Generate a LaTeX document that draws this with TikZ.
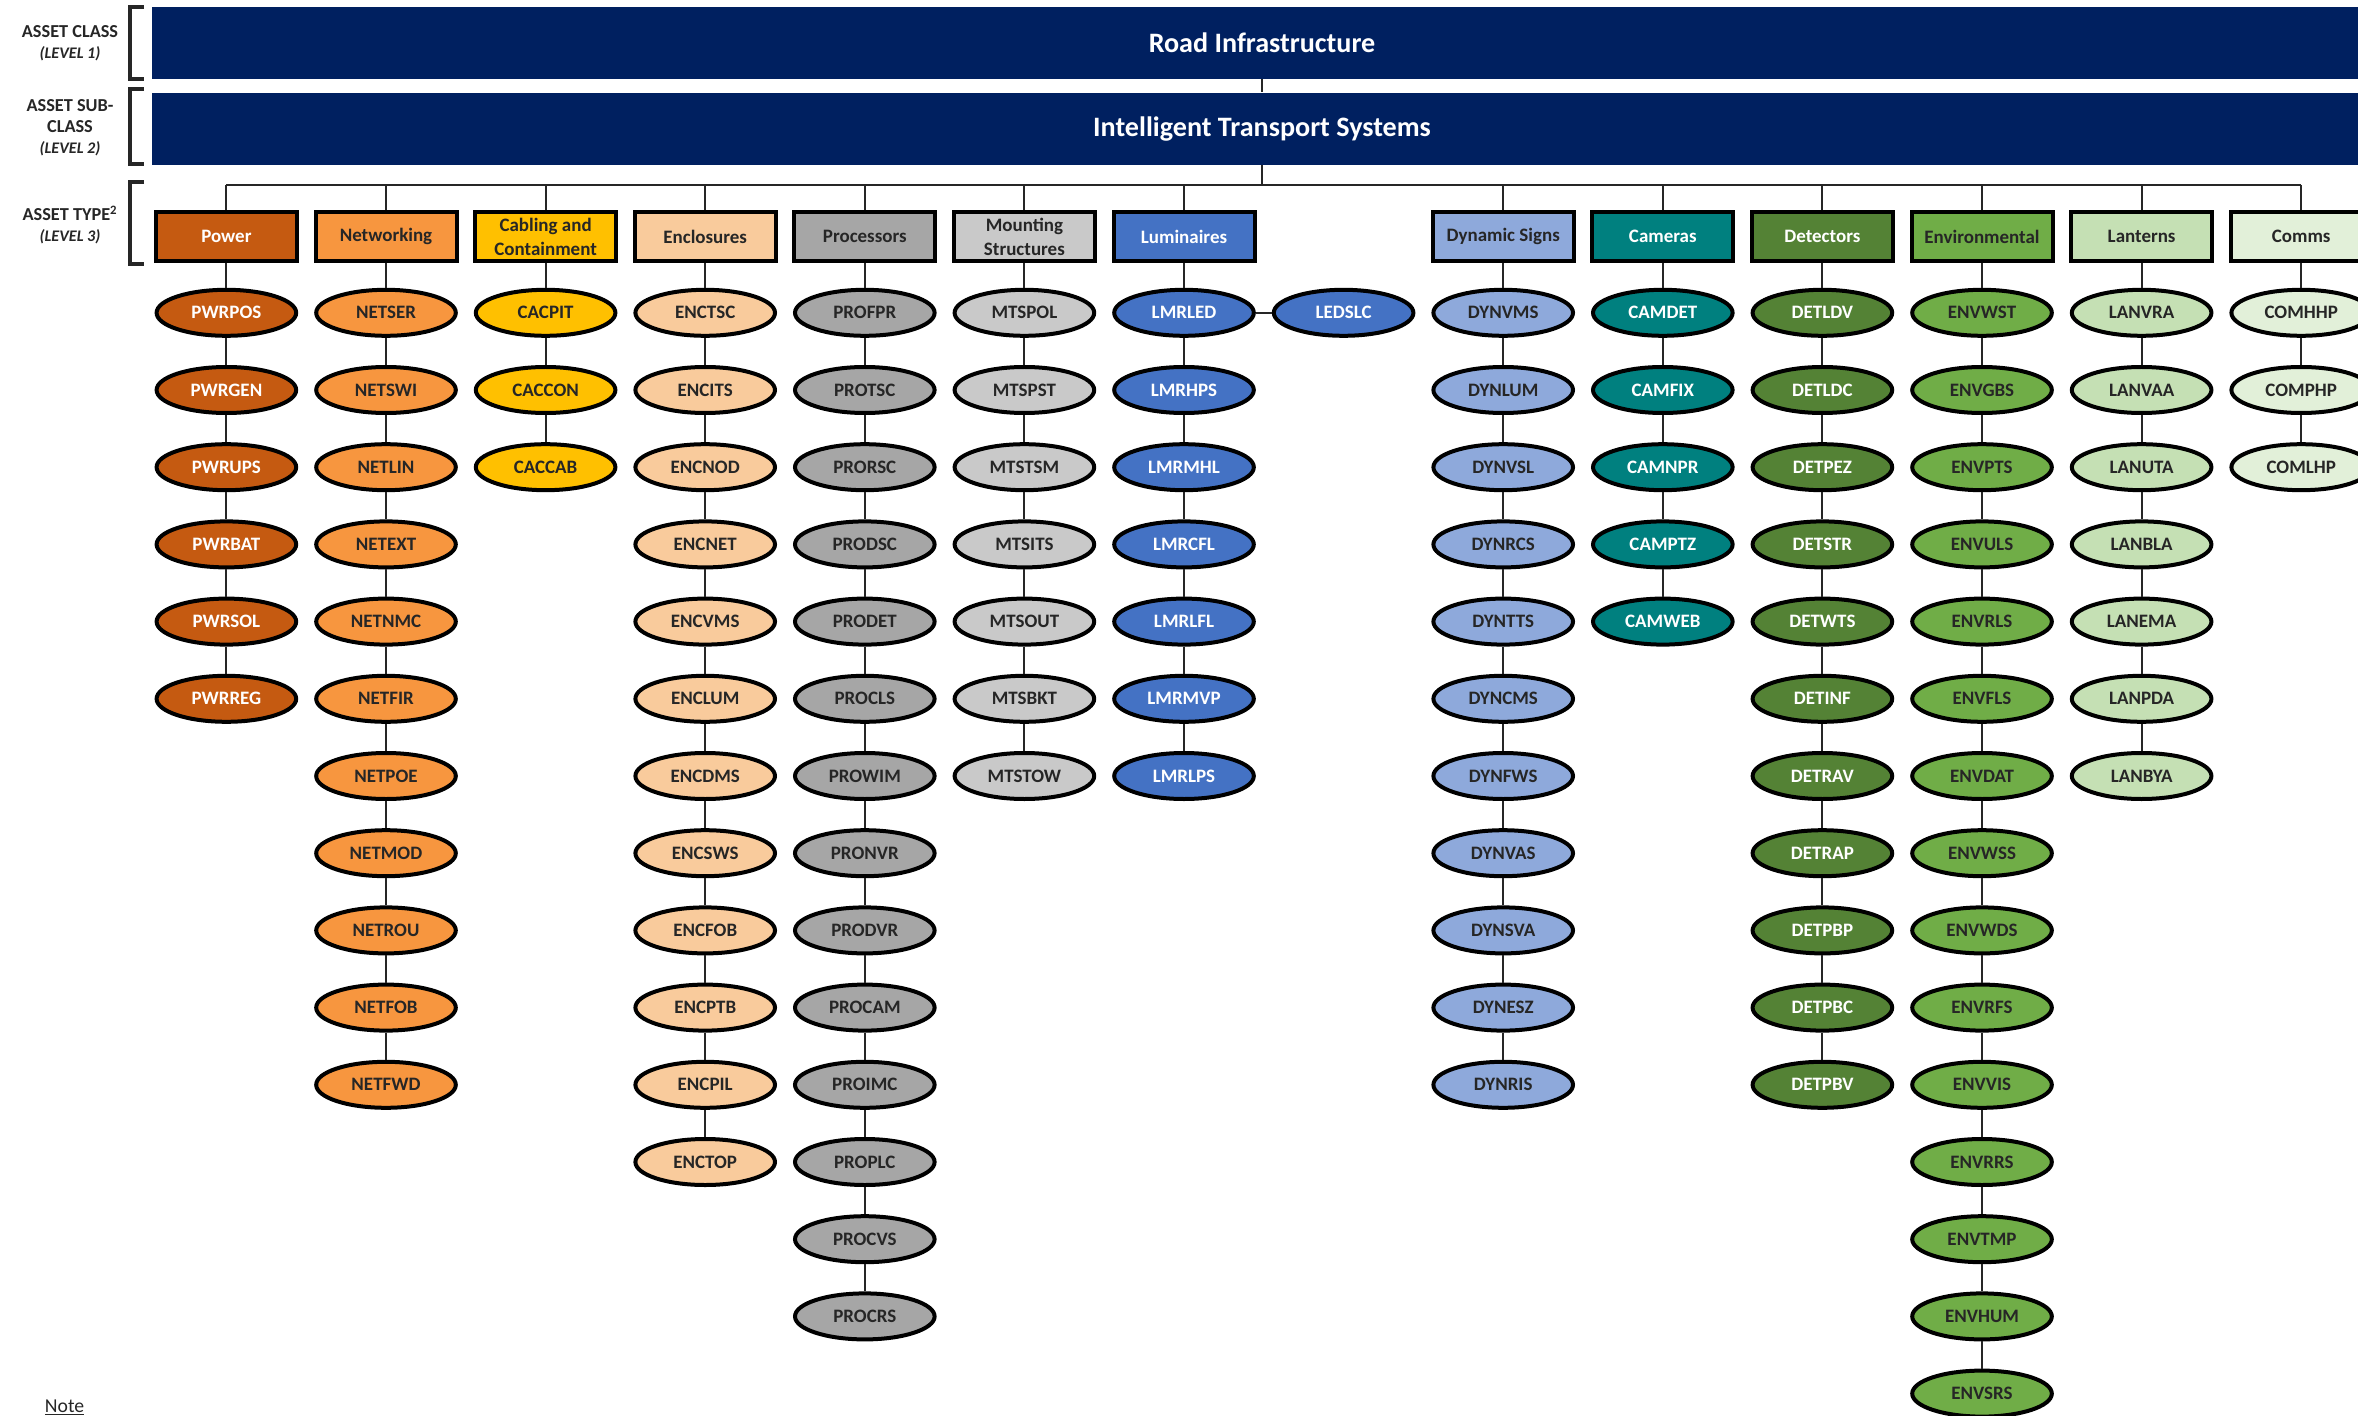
\documentclass[tikz,border=0pt]{standalone}
\usepackage{fontspec}
\setmainfont{Carlito}
\usetikzlibrary{positioning,shapes.geometric}

\definecolor{navy}{HTML}{002060}
\definecolor{cpwr}{HTML}{C55A11}
\definecolor{cnet}{HTML}{F7963F}
\definecolor{ccac}{HTML}{FFC000}
\definecolor{cenc}{HTML}{F9CB9C}
\definecolor{cpro}{HTML}{A6A6A6}
\definecolor{cmts}{HTML}{C9C9C9}
\definecolor{clmr}{HTML}{4472C4}
\definecolor{cdyn}{HTML}{8EA9DB}
\definecolor{ccam}{HTML}{00807F}
\definecolor{cdet}{HTML}{548235}
\definecolor{cenv}{HTML}{70AD47}
\definecolor{clan}{HTML}{C5E0B4}
\definecolor{ccom}{HTML}{E2F0D9}

\begin{document}
\begin{tikzpicture}[
    node distance=6.8mm and 3.65mm,
    lvl/.style={align=center, text=black!85,
      font=\fontsize{13}{15}\selectfont\bfseries},
    bar/.style={rectangle, fill=navy, text=white,
      minimum width=555mm, minimum height=18mm,
      font=\fontsize{20}{24}\selectfont\bfseries},
    typ/.style={rectangle, draw=black, line width=1mm, text=black!85,
      minimum width=35.25mm, minimum height=12.25mm, inner sep=0.5mm,
      align=center, font=\fontsize{13.5}{17}\selectfont\bfseries},
    cod/.style={ellipse, draw=black, line width=1mm, text=black!85,
      minimum width=34.9mm, minimum height=11.5mm, inner sep=0.5mm,
      font=\fontsize{13.5}{16}\selectfont\bfseries},
    lnk/.style={draw=black!85, line width=0.5mm},
    brk/.style={draw=black!85, line width=1mm},
    powr/.style={fill=cpwr, text=white},
    netw/.style={fill=cnet},
    cabl/.style={fill=ccac},
    encl/.style={fill=cenc},
    proc/.style={fill=cpro},
    moun/.style={fill=cmts},
    lumi/.style={fill=clmr, text=white},
    dyns/.style={fill=cdyn},
    came/.style={fill=ccam, text=white},
    dete/.style={fill=cdet, text=white},
    envi/.style={fill=cenv},
    lant/.style={fill=clan},
    comm/.style={fill=ccom}
  ]
    \useasboundingbox (0,0) rectangle (589.5mm,-354mm);

    \node[lvl] (l1) at (17.5mm,-10.75mm) {ASSET CLASS\\{\fontsize{11.5}{15}\selectfont\itshape (LEVEL 1)}};
    \node[lvl] (l2) at (17.5mm,-32mm) {ASSET SUB-\\CLASS\\{\fontsize{11.5}{15}\selectfont\itshape (LEVEL 2)}};
    \node[lvl] (l3) at (17.5mm,-56.25mm) {ASSET TYPE\textsuperscript{2}\\{\fontsize{11.5}{15}\selectfont\itshape (LEVEL 3)}};
    \draw[brk] (36mm,-1.75mm) -| (32.4mm,-19.75mm) -- (36mm,-19.75mm);
    \draw[brk] (36mm,-22.3mm) -| (32.4mm,-41.1mm) -- (36mm,-41.1mm);
    \draw[brk] (36mm,-45.5mm) -| (32.4mm,-66mm) -- (36mm,-66mm);

    \node[bar] (road) at (315.5mm,-10.75mm) {Road Infrastructure};
    \node[bar, below=3.25mm of road] (its) {Intelligent Transport Systems};
    \coordinate[below=5mm of its] (bus);

    \node[typ, powr] (pwr) at (56.6mm,-59.125mm) {Power};
    \node[typ, netw, right=of pwr] (net) {Networking};
    \node[typ, cabl, right=of net] (cac) {Cabling and\\Containment};
    \node[typ, encl, right=of cac] (enc) {Enclosures};
    \node[typ, proc, right=of enc] (pro) {Processors};
    \node[typ, moun, right=of pro] (mts) {Mounting\\Structures};
    \node[typ, lumi, right=of mts] (lmr) {Luminaires};
    \node[typ, dyns, right=43.55mm of lmr] (dyn) {Dynamic Signs};
    \node[typ, came, right=of dyn] (cam) {Cameras};
    \node[typ, dete, right=of cam] (det) {Detectors};
    \node[typ, envi, right=of det] (env) {Environmental};
    \node[typ, lant, right=of env] (lan) {Lanterns};
    \node[typ, comm, right=of lan] (com) {Comms};

    \node[cod, powr, below=6.2mm of pwr] (pwrpos) {PWRPOS};
    \node[cod, powr, below=of pwrpos] (pwrgen) {PWRGEN};
    \node[cod, powr, below=of pwrgen] (pwrups) {PWRUPS};
    \node[cod, powr, below=of pwrups] (pwrbat) {PWRBAT};
    \node[cod, powr, below=of pwrbat] (pwrsol) {PWRSOL};
    \node[cod, powr, below=of pwrsol] (pwrreg) {PWRREG};

    \node[cod, netw, below=6.2mm of net] (netser) {NETSER};
    \node[cod, netw, below=of netser] (netswi) {NETSWI};
    \node[cod, netw, below=of netswi] (netlin) {NETLIN};
    \node[cod, netw, below=of netlin] (netext) {NETEXT};
    \node[cod, netw, below=of netext] (netnmc) {NETNMC};
    \node[cod, netw, below=of netnmc] (netfir) {NETFIR};
    \node[cod, netw, below=of netfir] (netpoe) {NETPOE};
    \node[cod, netw, below=of netpoe] (netmod) {NETMOD};
    \node[cod, netw, below=of netmod] (netrou) {NETROU};
    \node[cod, netw, below=of netrou] (netfob) {NETFOB};
    \node[cod, netw, below=of netfob] (netfwd) {NETFWD};

    \node[cod, cabl, below=6.2mm of cac] (cacpit) {CACPIT};
    \node[cod, cabl, below=of cacpit] (caccon) {CACCON};
    \node[cod, cabl, below=of caccon] (caccab) {CACCAB};

    \node[cod, encl, below=6.2mm of enc] (enctsc) {ENCTSC};
    \node[cod, encl, below=of enctsc] (encits) {ENCITS};
    \node[cod, encl, below=of encits] (encnod) {ENCNOD};
    \node[cod, encl, below=of encnod] (encnet) {ENCNET};
    \node[cod, encl, below=of encnet] (encvms) {ENCVMS};
    \node[cod, encl, below=of encvms] (enclum) {ENCLUM};
    \node[cod, encl, below=of enclum] (encdms) {ENCDMS};
    \node[cod, encl, below=of encdms] (encsws) {ENCSWS};
    \node[cod, encl, below=of encsws] (encfob) {ENCFOB};
    \node[cod, encl, below=of encfob] (encptb) {ENCPTB};
    \node[cod, encl, below=of encptb] (encpil) {ENCPIL};
    \node[cod, encl, below=of encpil] (enctop) {ENCTOP};

    \node[cod, proc, below=6.2mm of pro] (profpr) {PROFPR};
    \node[cod, proc, below=of profpr] (protsc) {PROTSC};
    \node[cod, proc, below=of protsc] (prorsc) {PRORSC};
    \node[cod, proc, below=of prorsc] (prodsc) {PRODSC};
    \node[cod, proc, below=of prodsc] (prodet) {PRODET};
    \node[cod, proc, below=of prodet] (procls) {PROCLS};
    \node[cod, proc, below=of procls] (prowim) {PROWIM};
    \node[cod, proc, below=of prowim] (pronvr) {PRONVR};
    \node[cod, proc, below=of pronvr] (prodvr) {PRODVR};
    \node[cod, proc, below=of prodvr] (procam) {PROCAM};
    \node[cod, proc, below=of procam] (proimc) {PROIMC};
    \node[cod, proc, below=of proimc] (proplc) {PROPLC};
    \node[cod, proc, below=of proplc] (procvs) {PROCVS};
    \node[cod, proc, below=of procvs] (procrs) {PROCRS};

    \node[cod, moun, below=6.2mm of mts] (mtspol) {MTSPOL};
    \node[cod, moun, below=of mtspol] (mtspst) {MTSPST};
    \node[cod, moun, below=of mtspst] (mtstsm) {MTSTSM};
    \node[cod, moun, below=of mtstsm] (mtsits) {MTSITS};
    \node[cod, moun, below=of mtsits] (mtsout) {MTSOUT};
    \node[cod, moun, below=of mtsout] (mtsbkt) {MTSBKT};
    \node[cod, moun, below=of mtsbkt] (mtstow) {MTSTOW};

    \node[cod, lumi, below=6.2mm of lmr] (lmrled) {LMRLED};
    \node[cod, lumi, right=4mm of lmrled] (ledslc) {LEDSLC};
    \node[cod, lumi, below=of lmrled] (lmrhps) {LMRHPS};
    \node[cod, lumi, below=of lmrhps] (lmrmhl) {LMRMHL};
    \node[cod, lumi, below=of lmrmhl] (lmrcfl) {LMRCFL};
    \node[cod, lumi, below=of lmrcfl] (lmrlfl) {LMRLFL};
    \node[cod, lumi, below=of lmrlfl] (lmrmvp) {LMRMVP};
    \node[cod, lumi, below=of lmrmvp] (lmrlps) {LMRLPS};

    \node[cod, dyns, below=6.2mm of dyn] (dynvms) {DYNVMS};
    \node[cod, dyns, below=of dynvms] (dynlum) {DYNLUM};
    \node[cod, dyns, below=of dynlum] (dynvsl) {DYNVSL};
    \node[cod, dyns, below=of dynvsl] (dynrcs) {DYNRCS};
    \node[cod, dyns, below=of dynrcs] (dyntts) {DYNTTS};
    \node[cod, dyns, below=of dyntts] (dyncms) {DYNCMS};
    \node[cod, dyns, below=of dyncms] (dynfws) {DYNFWS};
    \node[cod, dyns, below=of dynfws] (dynvas) {DYNVAS};
    \node[cod, dyns, below=of dynvas] (dynsva) {DYNSVA};
    \node[cod, dyns, below=of dynsva] (dynesz) {DYNESZ};
    \node[cod, dyns, below=of dynesz] (dynris) {DYNRIS};

    \node[cod, came, below=6.2mm of cam] (camdet) {CAMDET};
    \node[cod, came, below=of camdet] (camfix) {CAMFIX};
    \node[cod, came, below=of camfix] (camnpr) {CAMNPR};
    \node[cod, came, below=of camnpr] (camptz) {CAMPTZ};
    \node[cod, came, below=of camptz] (camweb) {CAMWEB};

    \node[cod, dete, below=6.2mm of det] (detldv) {DETLDV};
    \node[cod, dete, below=of detldv] (detldc) {DETLDC};
    \node[cod, dete, below=of detldc] (detpez) {DETPEZ};
    \node[cod, dete, below=of detpez] (detstr) {DETSTR};
    \node[cod, dete, below=of detstr] (detwts) {DETWTS};
    \node[cod, dete, below=of detwts] (detinf) {DETINF};
    \node[cod, dete, below=of detinf] (detrav) {DETRAV};
    \node[cod, dete, below=of detrav] (detrap) {DETRAP};
    \node[cod, dete, below=of detrap] (detpbp) {DETPBP};
    \node[cod, dete, below=of detpbp] (detpbc) {DETPBC};
    \node[cod, dete, below=of detpbc] (detpbv) {DETPBV};

    \node[cod, envi, below=6.2mm of env] (envwst) {ENVWST};
    \node[cod, envi, below=of envwst] (envgbs) {ENVGBS};
    \node[cod, envi, below=of envgbs] (envpts) {ENVPTS};
    \node[cod, envi, below=of envpts] (envuls) {ENVULS};
    \node[cod, envi, below=of envuls] (envrls) {ENVRLS};
    \node[cod, envi, below=of envrls] (envfls) {ENVFLS};
    \node[cod, envi, below=of envfls] (envdat) {ENVDAT};
    \node[cod, envi, below=of envdat] (envwss) {ENVWSS};
    \node[cod, envi, below=of envwss] (envwds) {ENVWDS};
    \node[cod, envi, below=of envwds] (envrfs) {ENVRFS};
    \node[cod, envi, below=of envrfs] (envvis) {ENVVIS};
    \node[cod, envi, below=of envvis] (envrrs) {ENVRRS};
    \node[cod, envi, below=of envrrs] (envtmp) {ENVTMP};
    \node[cod, envi, below=of envtmp] (envhum) {ENVHUM};
    \node[cod, envi, below=of envhum] (envsrs) {ENVSRS};

    \node[cod, lant, below=6.2mm of lan] (lanvra) {LANVRA};
    \node[cod, lant, below=of lanvra] (lanvaa) {LANVAA};
    \node[cod, lant, below=of lanvaa] (lanuta) {LANUTA};
    \node[cod, lant, below=of lanuta] (lanbla) {LANBLA};
    \node[cod, lant, below=of lanbla] (lanema) {LANEMA};
    \node[cod, lant, below=of lanema] (lanpda) {LANPDA};
    \node[cod, lant, below=of lanpda] (lanbya) {LANBYA};

    \node[cod, comm, below=6.2mm of com] (comhhp) {COMHHP};
    \node[cod, comm, below=of comhhp] (comphp) {COMPHP};
    \node[cod, comm, below=of comphp] (comlhp) {COMLHP};

    \node[anchor=base west, text=black!85, font=\fontsize{14}{16}\selectfont] (note) at (10mm,-353.1mm) {\underline{Note}};

    \draw[lnk] (road) -- (its);
    \draw[lnk] (its) -- (bus);
    \draw[lnk] (pwr |- bus) -- (com |- bus);

    \draw[lnk] (pwr |- bus) -- (pwr) -- (pwrpos) -- (pwrgen) -- (pwrups) -- (pwrbat) -- (pwrsol) -- (pwrreg);
    \draw[lnk] (net |- bus) -- (net) -- (netser) -- (netswi) -- (netlin) -- (netext) -- (netnmc) -- (netfir) -- (netpoe) -- (netmod) -- (netrou) -- (netfob) -- (netfwd);
    \draw[lnk] (cac |- bus) -- (cac) -- (cacpit) -- (caccon) -- (caccab);
    \draw[lnk] (enc |- bus) -- (enc) -- (enctsc) -- (encits) -- (encnod) -- (encnet) -- (encvms) -- (enclum) -- (encdms) -- (encsws) -- (encfob) -- (encptb) -- (encpil) -- (enctop);
    \draw[lnk] (pro |- bus) -- (pro) -- (profpr) -- (protsc) -- (prorsc) -- (prodsc) -- (prodet) -- (procls) -- (prowim) -- (pronvr) -- (prodvr) -- (procam) -- (proimc) -- (proplc) -- (procvs) -- (procrs);
    \draw[lnk] (mts |- bus) -- (mts) -- (mtspol) -- (mtspst) -- (mtstsm) -- (mtsits) -- (mtsout) -- (mtsbkt) -- (mtstow);
    \draw[lnk] (lmr |- bus) -- (lmr) -- (lmrled) -- (lmrhps) -- (lmrmhl) -- (lmrcfl) -- (lmrlfl) -- (lmrmvp) -- (lmrlps);
    \draw[lnk] (lmrled) -- (ledslc);
    \draw[lnk] (dyn |- bus) -- (dyn) -- (dynvms) -- (dynlum) -- (dynvsl) -- (dynrcs) -- (dyntts) -- (dyncms) -- (dynfws) -- (dynvas) -- (dynsva) -- (dynesz) -- (dynris);
    \draw[lnk] (cam |- bus) -- (cam) -- (camdet) -- (camfix) -- (camnpr) -- (camptz) -- (camweb);
    \draw[lnk] (det |- bus) -- (det) -- (detldv) -- (detldc) -- (detpez) -- (detstr) -- (detwts) -- (detinf) -- (detrav) -- (detrap) -- (detpbp) -- (detpbc) -- (detpbv);
    \draw[lnk] (env |- bus) -- (env) -- (envwst) -- (envgbs) -- (envpts) -- (envuls) -- (envrls) -- (envfls) -- (envdat) -- (envwss) -- (envwds) -- (envrfs) -- (envvis) -- (envrrs) -- (envtmp) -- (envhum) -- (envsrs);
    \draw[lnk] (lan |- bus) -- (lan) -- (lanvra) -- (lanvaa) -- (lanuta) -- (lanbla) -- (lanema) -- (lanpda) -- (lanbya);
    \draw[lnk] (com |- bus) -- (com) -- (comhhp) -- (comphp) -- (comlhp);
  \end{tikzpicture}
\end{document}
